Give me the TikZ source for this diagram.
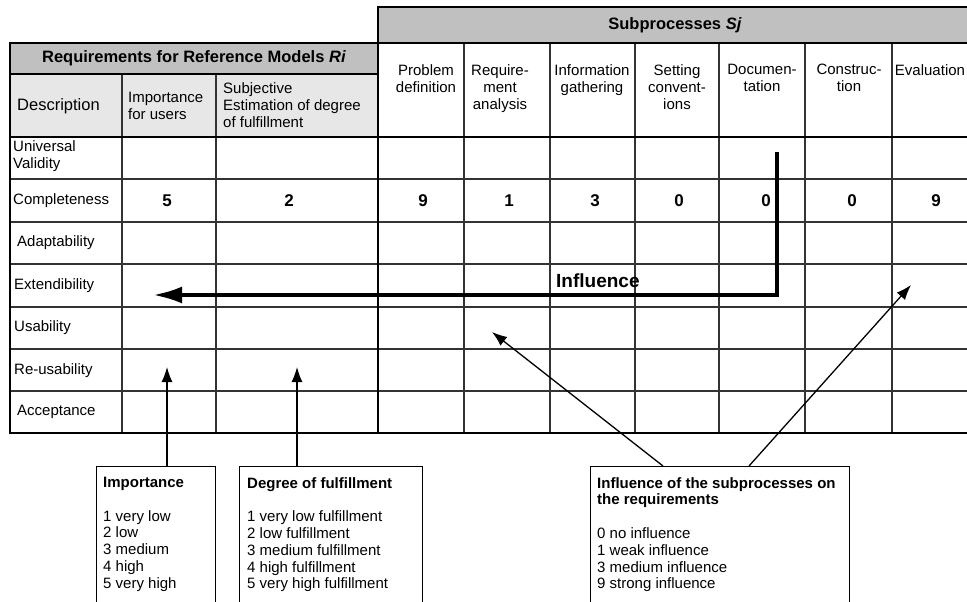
\documentclass[tikz,border=0pt]{standalone}
\usepackage{fontspec}
\setmainfont{Liberation Sans}
\usepackage{tikz}
\usetikzlibrary{arrows.meta}

\definecolor{hdrgray}{RGB}{192,192,192}
\definecolor{descgray}{RGB}{231,231,231}

\begin{document}
\begin{tikzpicture}[
x=1pt,y=-1pt,
thinline/.style={
  line width=1.1pt,
  black!80
},
thickline/.style={
  line width=2.2pt,
  line cap=rect
},
txt/.style={
  inner sep=0pt,
  font=\fontsize{15}{17}\selectfont
},
rowlbl/.style={
  txt,
  anchor=west,
  align=left
},
colhdr/.style={
  txt,
  anchor=north,
  align=center
},
title/.style={
  inner sep=0pt,
  font=\bfseries\fontsize{16.5}{18}\selectfont
},
num/.style={
  inner sep=0pt,
  font=\bfseries\fontsize{17}{17}\selectfont
},
legend/.style={
  draw,
  line width=1pt,
  anchor=north west,
  minimum height=160pt,
  inner sep=0pt
},
legtext/.style={
  anchor=north west,
  inner sep=0pt,
  align=left,
  font=\fontsize{15}{16.8}\selectfont
},
pointer/.style={
  line width=1.3pt,
  -{Latex[length=15pt,width=11pt]}
},
bigpointer/.style={
  line width=4pt,
  line join=miter,
  -{Latex[length=29pt,width=17pt]}
}
]
\useasboundingbox (0,0) rectangle (967,602);
\clip (0,0) rectangle (967,602);

% table background
\fill[hdrgray] (378,7) rectangle (978,43);
\fill[hdrgray] (10,43) rectangle (378,74);
\fill[descgray] (10,74) rectangle (378,137);

% grid
\foreach \y in {179,222,264,307,349,391}
  \draw[thinline] (10,\y) -- (978,\y);
\foreach \x in {122,216}
  \draw[thinline] (\x,74) -- (\x,433);
\foreach \x in {464,550,635,719,805,892}
  \draw[thinline] (\x,43) -- (\x,433);

\draw[thickline] (378,43) -- (10,43) -- (10,433) -- (978,433);
\draw[thickline] (978,7) -- (378,7) -- (378,433);
\draw[thickline] (378,43) -- (978,43);
\draw[thickline] (10,74) -- (378,74);
\draw[thickline] (10,137) -- (978,137);

% headers
\node[title] (reqhdr) at (194,58.5) 
  {Requirements for Reference Models \textit{Ri}};
\node[title] (subhdr) at (675,25) 
  {Subprocesses \textit{Sj}};

\node[txt,anchor=west,font=\fontsize{16.5}{18}\selectfont] (desc) at (17,106) 
  {Description};
\node[rowlbl] (imp) at (128,105.5) 
  {Importance\\for users};
\node[rowlbl] (subj) at (223,105.5) 
  {Subjective\\Estimation of degree\\of fulfillment};

\node[colhdr] (cprob) at (426,64) {Problem\\definition};
\node[colhdr] (creq) at (500,64) {Require-\\ment\\analysis};
\node[colhdr] (cinfo) at (592,64) {Information\\gathering};
\node[colhdr] (cconv) at (677,64) {Setting\\convent-\\ions};
\node[colhdr] (cdoc) at (762,64) {Documen-\\tation};
\node[colhdr] (ccons) at (849,64) {Construc-\\tion};
\node[colhdr] (ceval) at (930,64) {Evaluation};

% requirements
\node[rowlbl] (runiv) at (13,156) {Universal\\Validity};
\node[rowlbl] (rcomp) at (13,200.5) {Completeness};
\node[rowlbl] (radap) at (17,243) {Adaptability};
\node[rowlbl] (rext) at (14,286) {Extendibility};
\node[rowlbl] (rusab) at (14,328) {Usability};
\node[rowlbl] (rreuse) at (14,370.5) {Re-usability};
\node[rowlbl] (raccept) at (17,411.5) {Acceptance};

\foreach \x/\v [count=\i] in {167/5,289/2,423/9,509/1,595/3,679/0,766/0,852/0,936/9}
  \node[num] (n\i) at (\x,200.5) {\v};

% influence arrow
\coordinate (inftop) at (777,152);
\coordinate (inftip) at (153,295);
\node[inner sep=0pt,anchor=base west,font=\bfseries\fontsize{19}{19}\selectfont] 
  (inflbl) at (556,287) {Influence};
\draw[bigpointer] (inftop) |- (inftip);

% legends
\node[legend,minimum width=119pt] (impbox) at (96,466) {};
\node[legtext] (imptxt) at ([xshift=7pt,yshift=-11pt]impbox.north west) 
  {\textbf{Importance}\\[16.8pt]1 very low\\2 low\\3 medium\\4 high\\5 very high};

\node[legend,minimum width=183pt] (degbox) at (239,466) {};
\node[legtext] (degtxt) at ([xshift=8pt,yshift=-11pt]degbox.north west) 
  {\textbf{Degree of fulfillment}\\[16.8pt]1 very low fulfillment\\2 low fulfillment\\3 medium fulfillment\\4 high fulfillment\\5 very high fulfillment};

\node[legend,minimum width=259pt] (infbox) at (590,466) {};
\node[legtext] (inftxt) at ([xshift=7pt,yshift=-11pt]infbox.north west) 
  {\textbf{Influence of the subprocesses on}\\\textbf{the requirements}\\[16.8pt]0 no influence\\1 weak influence\\3 medium influence\\9 strong influence};

\coordinate (imptip) at (167,367);
\coordinate (degtip) at (297,367);
\coordinate (usetip) at (492,332);
\coordinate (evaltip) at (911,285);

\draw[pointer] (impbox.north -| imptip) -- (imptip);
\draw[pointer] (degbox.north -| degtip) -- (degtip);
\draw[pointer] ([xshift=73pt]infbox.north west) -- (usetip);
\draw[pointer] ([xshift=159pt]infbox.north west) -- (evaltip);

\end{tikzpicture}
\end{document}
